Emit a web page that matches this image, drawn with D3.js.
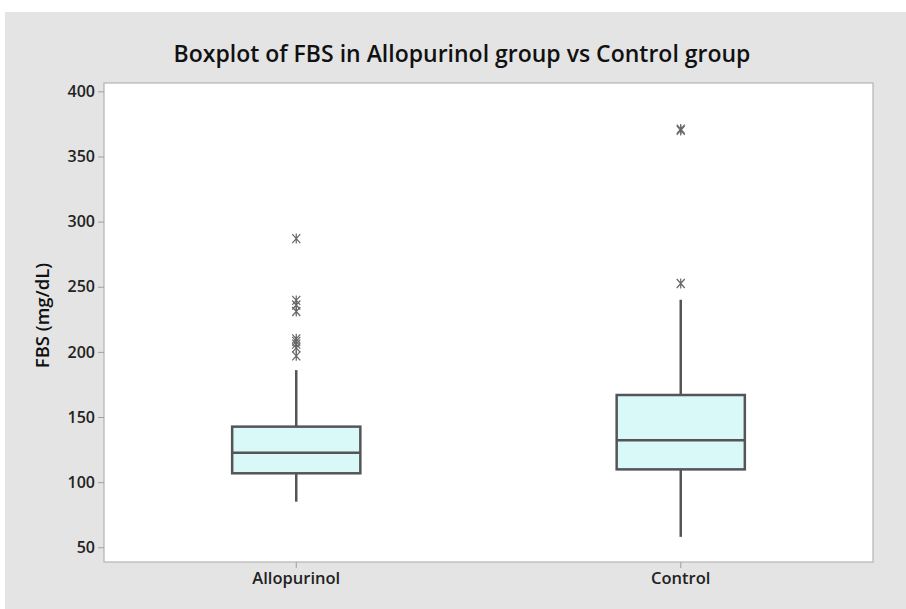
<!DOCTYPE html>
<html>
<head>
<meta charset="utf-8">
<script src="https://cdn.jsdelivr.net/npm/d3@7"></script>
<style>
  body { margin: 0; background: #fff; }
  text { font-family: "Open Sans", "Noto Sans", sans-serif; }
</style>
</head>
<body>
<svg id="chart" width="906" height="609"></svg>
<script>
var width = 906, height = 609

// data
var groups = ['Allopurinol', 'Control']
var q1 = [106.8, 109.8]
var median = [122.6, 132.1]
var q3 = [142.6, 166.9]
var whiskerLow = [85, 58]
var whiskerHigh = [186, 240]
var outliers = [
  [287, 239.5, 236, 231, 210, 208, 206, 203, 197],
  [371, 370, 252.5]
]
var yTicks = [50, 100, 150, 200, 250, 300, 350, 400]

var margin = {top: 83, right: 33, bottom: 47, left: 104}
var plotW = width - margin.left - margin.right
var plotH = height - margin.top - margin.bottom

var svg = d3.select('#chart')

// grey figure background
svg.append('rect')
  .attr('x', 5).attr('y', 12)
  .attr('width', width - 5).attr('height', height - 12)
  .attr('fill', '#e4e4e4')

svg.append('text')
  .attr('x', 462).attr('y', 62)
  .attr('text-anchor', 'middle')
  .attr('font-size', 23)
  .attr('font-weight', 600)
  .attr('fill', '#111')
  .text('Boxplot of FBS in Allopurinol group vs Control group')

var g = svg.append('g')
  .attr('transform', 'translate(' + margin.left + ',' + margin.top + ')')

g.append('rect')
  .attr('width', plotW).attr('height', plotH)
  .attr('fill', '#fff')
  .attr('stroke', '#b4b4b4')
  .attr('stroke-width', 1.2)

var x = d3.scaleBand().domain(groups).range([0, plotW]).padding(0)
var y = d3.scaleLinear().domain([38.7, 406.4]).range([plotH, 0])

var yAxis = g.append('g')
  .call(d3.axisLeft(y).tickValues(yTicks).tickSize(6).tickPadding(3))
yAxis.select('.domain').remove()
yAxis.selectAll('line').attr('stroke', '#a0a0a0')
yAxis.selectAll('text')
  .attr('font-size', 16).attr('font-weight', 600).attr('fill', '#222')
  .attr('font-family', '"Open Sans", sans-serif')

var xAxis = g.append('g')
  .attr('transform', 'translate(0,' + plotH + ')')
  .call(d3.axisBottom(x).tickSize(6).tickPadding(4))
xAxis.select('.domain').remove()
xAxis.selectAll('line').attr('stroke', '#a0a0a0')
xAxis.selectAll('text')
  .attr('font-size', 16.5).attr('font-weight', 600).attr('fill', '#222')
  .attr('font-family', '"Open Sans", sans-serif')

svg.append('text')
  .attr('transform', 'translate(49,' + (margin.top + plotH / 2 - 7) + ') rotate(-90)')
  .attr('text-anchor', 'middle')
  .attr('font-size', 18.5)
  .attr('font-weight', 600)
  .attr('fill', '#111')
  .text('FBS (mg/dL)')

var boxW = x.bandwidth() / 3
var stroke = '#555'

groups.forEach(function(name, i) {
  var cx = x(name) + x.bandwidth() / 2

  g.append('line')
    .attr('x1', cx).attr('x2', cx)
    .attr('y1', y(whiskerLow[i])).attr('y2', y(q1[i]))
    .attr('stroke', stroke).attr('stroke-width', 2.5)
  g.append('line')
    .attr('x1', cx).attr('x2', cx)
    .attr('y1', y(q3[i])).attr('y2', y(whiskerHigh[i]))
    .attr('stroke', stroke).attr('stroke-width', 2.5)

  g.append('rect')
    .attr('x', cx - boxW / 2).attr('y', y(q3[i]))
    .attr('width', boxW).attr('height', y(q1[i]) - y(q3[i]))
    .attr('fill', '#d9f8f8')
    .attr('stroke', stroke).attr('stroke-width', 2.5)

  g.append('line')
    .attr('x1', cx - boxW / 2).attr('x2', cx + boxW / 2)
    .attr('y1', y(median[i])).attr('y2', y(median[i]))
    .attr('stroke', stroke).attr('stroke-width', 2.5)

  g.selectAll('.out' + i)
    .data(outliers[i])
    .enter()
    .append('path')
    .attr('class', 'out' + i)
    .attr('transform', function(d) { return 'translate(' + cx + ',' + y(d) + ')' })
    .attr('d', 'M0,-5V5M-4,-4.5L4,4.5M-4,4.5L4,-4.5')
    .attr('fill', 'none')
    .attr('stroke', '#666')
    .attr('stroke-width', 1.2)
})
</script>
</body>
</html>
